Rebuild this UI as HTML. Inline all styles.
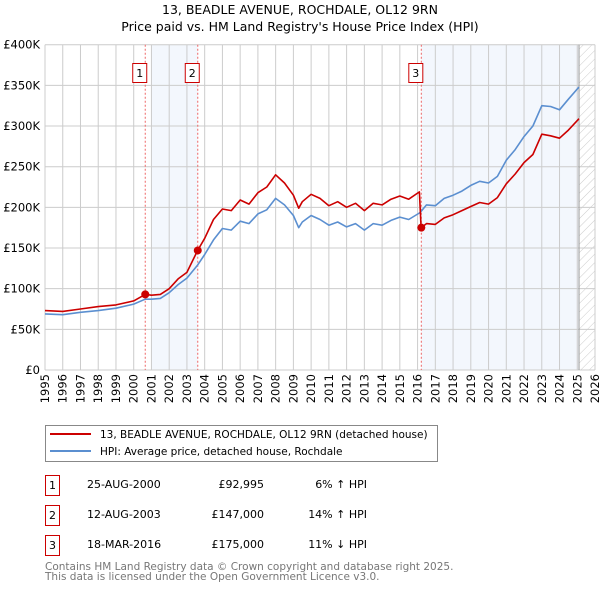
<!DOCTYPE html>
<html><head><meta charset="utf-8"><style>
body{margin:0;background:#fff;font-family:"Liberation Sans","DejaVu Sans",sans-serif;}
svg text{font-family:"DejaVu Sans","Liberation Sans",sans-serif;}
</style></head><body>
<svg id="chart" width="600" height="590" xmlns="http://www.w3.org/2000/svg">
<defs><pattern id="hatch" width="6" height="6" patternUnits="userSpaceOnUse" patternTransform="rotate(45)"><line x1="0" y1="0" x2="0" y2="6" stroke="#ccc" stroke-width="1"/></pattern></defs>
<text x="300" y="14" text-anchor="middle" font-size="12.5" fill="#000">13, BEADLE AVENUE, ROCHDALE, OL12 9RN</text>
<text x="300" y="31" text-anchor="middle" font-size="12.5" fill="#000">Price paid vs. HM Land Registry's House Price Index (HPI)</text>
<g id="plot"></g>
<g>
<rect x="45.5" y="425.5" width="392" height="36" fill="#fff" stroke="#888"/>
<line x1="50" y1="434" x2="91" y2="434" stroke="#cc0000" stroke-width="2"/>
<text x="100" y="438" font-size="10.5">13, BEADLE AVENUE, ROCHDALE, OL12 9RN (detached house)</text>
<line x1="50" y1="451" x2="91" y2="451" stroke="#5b8fd0" stroke-width="2"/>
<text x="100" y="455" font-size="10.5">HPI: Average price, detached house, Rochdale</text>
</g>
<g font-size="11">
<rect x="45.5" y="475.5" width="14" height="20" fill="#fff" stroke="#cc0000"/><text x="52.5" y="489" text-anchor="middle">1</text>
<text x="87" y="488">25-AUG-2000</text><text x="264" y="488" text-anchor="end">£92,995</text><text x="367" y="488" text-anchor="end">6% ↑ HPI</text>
<rect x="45.5" y="505.5" width="14" height="20" fill="#fff" stroke="#cc0000"/><text x="52.5" y="519" text-anchor="middle">2</text>
<text x="87" y="518">12-AUG-2003</text><text x="264" y="518" text-anchor="end">£147,000</text><text x="367" y="518" text-anchor="end">14% ↑ HPI</text>
<rect x="45.5" y="535.5" width="14" height="20" fill="#fff" stroke="#cc0000"/><text x="52.5" y="549" text-anchor="middle">3</text>
<text x="87" y="548">18-MAR-2016</text><text x="264" y="548" text-anchor="end">£175,000</text><text x="367" y="548" text-anchor="end">11% ↓ HPI</text>
</g>
<text x="45" y="570" font-size="10.5" fill="#777">Contains HM Land Registry data © Crown copyright and database right 2025.</text>
<text x="45" y="580" font-size="10.5" fill="#777">This data is licensed under the Open Government Licence v3.0.</text>
</svg>
<script>
const hpiYears=[1995,1996,1997,1998,1999,2000,2000.65,2001,2001.5,2002,2002.5,2003,2003.6,2004,2004.5,2005,2005.5,2006,2006.5,2007,2007.5,2008,2008.5,2009,2009.3,2009.5,2010,2010.5,2011,2011.5,2012,2012.5,2013,2013.5,2014,2014.5,2015,2015.5,2016.1,2016.2,2016.5,2017,2017.5,2018,2018.5,2019,2019.5,2020,2020.5,2021,2021.5,2022,2022.5,2023,2023.5,2024,2024.5,2025.1];
const hpiValues=[69,68,71,73,76,81,87,87,88,95,105,113,129,142,160,174,172,183,180,192,197,211,203,190,175,182,190,185,178,182,176,180,172,180,178,184,188,185,193,195,203,202,211,215,220,227,232,230,238,258,271,287,300,325,324,320,333,348];
const priceValues=[73,72,75,78,80,85,93,92,93,100,112,120,147,162,185,198,196,209,204,218,225,240,230,215,199,207,216,211,202,207,200,205,196,205,203,210,214,210,219,175,180,179,187,191,196,201,206,204,212,229,241,255,265,290,288,285,295,309];
const saleYears=[2000.65,2003.61,2016.21];
const saleValues=[92.995,147,175];
const saleLabels=["1","2","3"];
const yTicks=[0,50,100,150,200,250,300,350,400];
const yTickLabels=["£0","£50K","£100K","£150K","£200K","£250K","£300K","£350K","£400K"];
const xTicks=[];for(let y=1995;y<=2026;y++)xTicks.push(y);
const shadeRanges=[[2001.0,2003.61],[2016.21,2025.1]];

const L=45,R=595,T=44.7,B=370;
const xs=y=>L+(y-1995)/(2026-1995)*(R-L);
const ys=v=>B-v/400*(B-T);
const NS="http://www.w3.org/2000/svg";
const g=document.getElementById('plot');
function mk(tag,attrs,parent){const e=document.createElementNS(NS,tag);for(const k in attrs)e.setAttribute(k,attrs[k]);(parent||g).appendChild(e);return e;}

shadeRanges.forEach(r=>{const e=mk('rect',{x:xs(r[0]),y:T,width:xs(r[1])-xs(r[0]),height:B-T,fill:'#eef3fc',opacity:0.7});

});
const h=mk('rect',{x:xs(2025.1),y:T,width:R-xs(2025.1),height:B-T,fill:'url(#hatch)'});


xTicks.forEach(y=>{const e=mk('line',{x1:xs(y),x2:xs(y),y1:T,y2:B,stroke:'#ccc','stroke-width':1});


const t=mk('text',{x:0,y:0,'font-size':11.5,'text-anchor':'end',transform:`translate(${xs(y)+4},${B+4}) rotate(-90)`});t.textContent=y;

});
yTicks.forEach((v,i)=>{const e=mk('line',{x1:L,x2:R,y1:ys(v),y2:ys(v),stroke:'#ccc','stroke-width':1});


const t=mk('text',{x:L-5,y:ys(v)+4,'font-size':11.5,'text-anchor':'end'});t.textContent=yTickLabels[i];

});
const ev=mk('line',{x1:xs(2025.1),x2:xs(2025.1),y1:T,y2:B,stroke:'#999','stroke-width':1});


saleYears.forEach((y,i)=>{const e=mk('line',{x1:xs(y),x2:xs(y),y1:T,y2:B,stroke:'#e66','stroke-width':1,'stroke-dasharray':'2,2'});


const b=mk('rect',{x:xs(y)-12.5,y:63.5,width:14,height:19,fill:'#fff',stroke:'#cc0000'});


const t=mk('text',{x:xs(y)-5.5,y:77,'font-size':11,'text-anchor':'middle'});t.textContent=saleLabels[i];

});
function line(xv,yv,color,name){const d=xv.map((x,i)=>(i?'L':'M')+xs(x).toFixed(1)+','+ys(yv[i]).toFixed(1)).join('');
const p=mk('path',{d:d,fill:'none',stroke:color,'stroke-width':1.6,'stroke-linejoin':'round'});

}
line(hpiYears,hpiValues,'#5b8fd0','hpi-line');
line(hpiYears,priceValues,'#cc0000','price-line');
saleYears.forEach((y,i)=>{const c=mk('circle',{cx:xs(y),cy:ys(saleValues[i]),r:4,fill:'#cc0000'});

});
</script>
</body></html>
